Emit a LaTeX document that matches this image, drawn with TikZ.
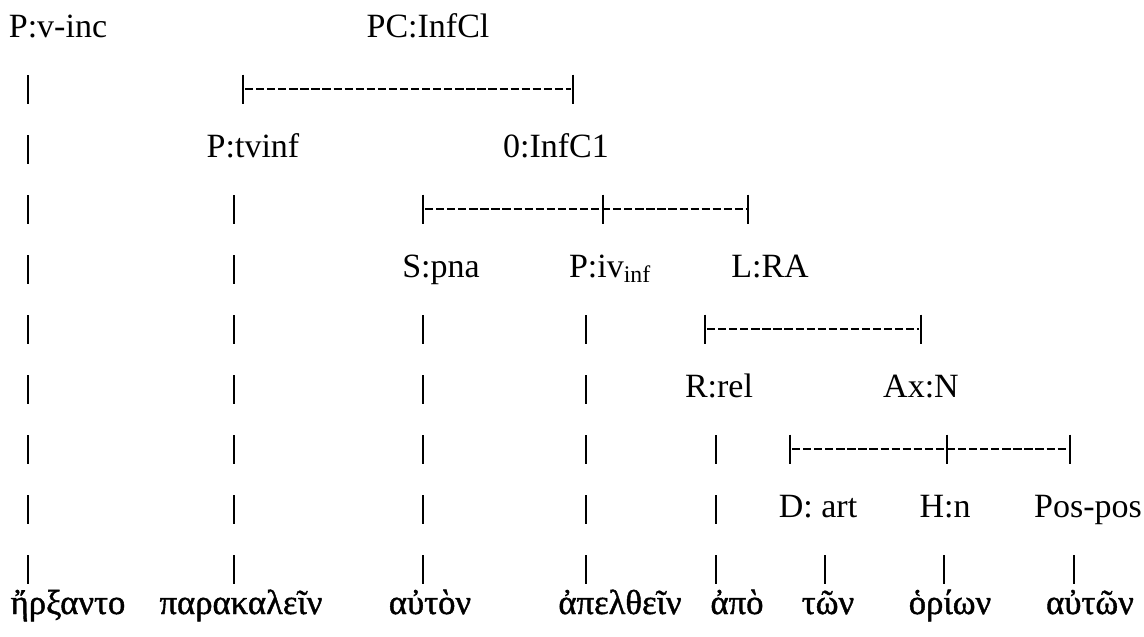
\documentclass[tikz,border=0pt]{standalone}
\usepackage{fontspec}
\setmainfont{Liberation Serif}
\newfontfamily\grkfont[FakeBold=1.2]{Liberation Serif}
\begin{document}
\begin{tikzpicture}[x=0.75pt,y=-0.75pt,
	tag/.style={anchor=base,inner sep=0pt,font=\fontsize{25.5}{30}\selectfont},
	word/.style={tag,font=\fontsize{26}{30}\grkfont},
	stem/.style={line width=1.1pt,dash pattern=on 21.75pt off 23.25pt},
	bar/.style={line width=1.8pt,dash pattern=on 6.2pt off 2.1pt},
	tick/.style={line width=1.1pt}]
	\useasboundingbox (0,0) rectangle (1144,636);

	\node[tag] (vinc)  at (58,37)    {P:v-inc};
	\node[tag] (infcl) at (428,37)   {PC:InfCl};
	\node[tag] (tvinf) at (253,157)  {P:tvinf};
	\node[tag] (inf1)  at (556,157)  {0:InfC1};
	\node[tag] (pna)   at (441,277)  {S:pna};
	\node[tag] (ivinf) at (610,277)  {P:iv\textsubscript{inf}};
	\node[tag] (ra)    at (770,277)  {L:RA};
	\node[tag] (rel)   at (719,397)  {R:rel};
	\node[tag] (axn)   at (921,397)  {Ax:N};
	\node[tag] (art)   at (818,517)  {D: art};
	\node[tag] (hn)    at (945,517)  {H:n};
	\node[tag] (pos)   at (1088,517) {Pos-pos};

	\foreach \i/\x/\w in {1/68/ἤρξαντο, 2/241/παρακαλεῖν, 3/430/αὐτὸν, 4/620/ἀπελθεῖν,
		5/737/ἀπὸ, 6/828/τῶν, 7/950/ὁρίων, 8/1090/αὐτῶν}
		\node[word] (w\i) at (\x,614) {\w};

	\foreach \i/\x/\r in {1/28/2, 2/234/4, 3/423/6, 4/586/6, 5/716/8, 6/825/10, 7/944/10, 8/1074/10}
		{\coordinate (s\i) at (\x,{15+60*(\r-1)});
		 \draw[stem] (s\i) -- (s\i |- w\i.base);}

	\foreach \y/\a/\b in {89/243/573, 209/423/748, 329/705/921, 449/790/1070}
		\draw[bar] (\a+2,\y) -- (\b-2,\y);
	\foreach \x/\y in {243/89, 573/89, 423/209, 603/209, 748/209, 705/329, 921/329,
		790/449, 947/449, 1070/449}
		\draw[tick] (\x,\y-14.5) -- ++(0,29);

\end{tikzpicture}
\end{document}
